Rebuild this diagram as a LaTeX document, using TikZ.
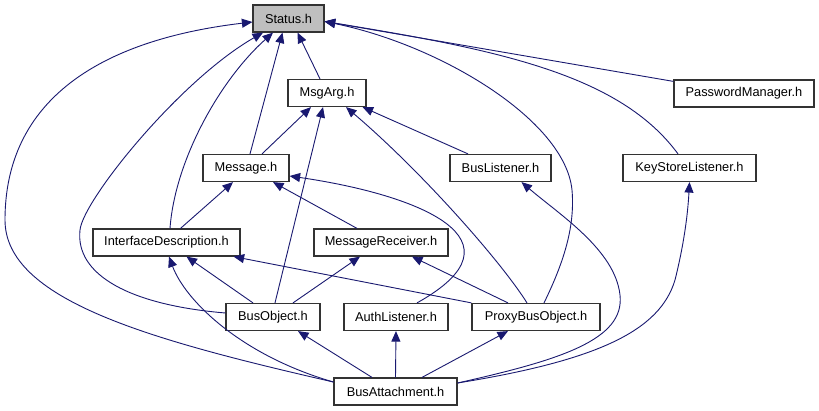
\documentclass[tikz,border=0pt]{standalone}
\usepackage{fontspec}
\setmainfont{Liberation Sans}
\usepackage{tikz}
\usetikzlibrary{arrows.meta}
\definecolor{edgeblue}{RGB}{25,25,112}
\definecolor{nodegray}{RGB}{191,191,191}

\begin{document}
\begin{tikzpicture}[
      x=1pt, y=-1pt,
      hfile/.style={draw=black!80, line width=1.2pt, fill=white, minimum width=#1,
                    minimum height=27pt, inner sep=0pt, align=center,
                    font=\fontsize{12.8}{14}\selectfont},
      dep/.style={-{Triangle[length=10.5pt, width=9pt]}, line width=0.9pt, color=edgeblue}
  ]
    \fill[white] (0,0) rectangle (819,411);
    \useasboundingbox (0,0) rectangle (819,411);

    \node[hfile=71pt, fill=nodegray] (status) at (288.5,18.5)  {Status.h};
    \node[hfile=78pt]  (msgarg) at (327,93)    {MsgArg.h};
    \node[hfile=140pt] (pwmgr)  at (744,93.5)  {PasswordManager.h};
    \node[hfile=86pt]  (msg)    at (246,168)   {Message.h};
    \node[hfile=101pt] (blis)   at (500.5,168) {BusListener.h};
    \node[hfile=133pt] (ksl)    at (689.5,168) {KeyStoreListener.h};
    \node[hfile=147pt] (ifd)    at (166.5,242.5) {InterfaceDescription.h};
    \node[hfile=134pt] (mrecv)  at (381,242.5) {MessageReceiver.h};
    \node[hfile=94pt]  (bobj)   at (273,317)   {BusObject.h};
    \node[hfile=104pt] (auth)   at (396,317)   {AuthListener.h};
    \node[hfile=128pt] (proxy)  at (536,317)   {ProxyBusObject.h};
    \node[hfile=123pt] (batt)   at (395.5,391.5) {BusAttachment.h};

    % straight includes
    \draw[dep] ([xshift=-7pt]msgarg.north) -- ([xshift=9pt]status.south);
    \draw[dep] ([xshift=4pt]msg.north)     -- ([xshift=-6pt]status.south);
    \draw[dep] ([xshift=16pt]msg.north)    -- ([xshift=-16pt]msgarg.south);
    \draw[dep] ([xshift=14pt]ifd.north)    -- ([xshift=-13pt]msg.south);
    \draw[dep] ([xshift=-24pt]mrecv.north) -- ([xshift=27pt]msg.south);
    \draw[dep] ([xshift=-32.5pt]blis.north) -- ([xshift=-4pt]msgarg.south east);
    \draw[dep] ([xshift=2pt]bobj.north)    -- ([xshift=-4pt]msgarg.south);
    \draw[dep] ([xshift=-20pt]bobj.north)  -- ([xshift=20pt]ifd.south);
    \draw[dep] ([xshift=20pt]bobj.north)   -- ([xshift=-21pt]mrecv.south);
    \draw[dep] (proxy.north west)          -- ([xshift=-7pt]ifd.south east);
    \draw[dep] ([xshift=-28pt]proxy.north) -- ([xshift=31pt]mrecv.south);
    \draw[dep] ([yshift=-2pt]pwmgr.north west) -- ([yshift=-3pt]status.east);
    \draw[dep] ([xshift=-23.5pt]batt.north) -- ([xshift=25pt]bobj.south);
    \draw[dep] (batt.north)                 -- (auth.south);
    \draw[dep] ([xshift=26.5pt]batt.north)  -- ([xshift=-28pt]proxy.south);

    % curved includes
    \draw[dep] ([xshift=3.5pt]ifd.north) .. controls (175,160) and (220,80) .. ([xshift=-15.5pt]status.south);
    \draw[dep] ([yshift=4pt]bobj.west) .. controls (130,305) and (75,275) .. (80,230)
               .. controls (83,200) and (180,80) .. ([xshift=-25.5pt]status.south);
    \draw[dep] ([xshift=21pt]auth.north) .. controls (530,240) and (420,195) .. ([yshift=-8pt]msg.east);
    \draw[dep] ([xshift=8pt]proxy.north) .. controls (565,260) and (575,225) .. (572,190)
               .. controls (565,120) and (440,45) .. ([yshift=-3pt]status.east);
    \draw[dep] ([xshift=-9pt]proxy.north) .. controls (500,260) and (420,170) .. ([xshift=19pt]msgarg.south);
    \draw[dep] ([xshift=-11.5pt]ksl.north) .. controls (620,75) and (500,50) .. ([yshift=-3pt]status.east);
    \draw[dep] ([yshift=9.5pt]batt.west) .. controls (150,340) and (5,300) .. (5,220)
               .. controls (5,100) and (100,40) .. ([yshift=-3.5pt]status.west);
    \draw[dep] ([yshift=9.5pt]batt.west) .. controls (240,355) and (185,300) .. ([xshift=2.5pt]ifd.south);
    \draw[dep] ([yshift=8.5pt]batt.east) .. controls (560,360) and (625,340) .. (620,295)
               .. controls (615,250) and (560,215) .. ([xshift=21pt]blis.south);
    \draw[dep] ([yshift=8.5pt]batt.east) .. controls (600,360) and (660,330) .. (675,280)
               .. controls (685,240) and (688,210) .. (ksl.south);
  \end{tikzpicture}
\end{document}
